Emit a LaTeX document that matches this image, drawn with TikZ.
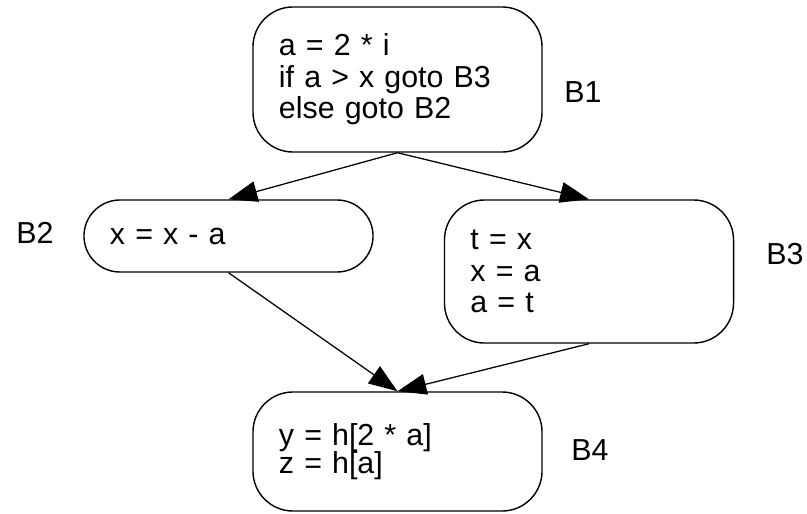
\documentclass[tikz,border=0pt]{standalone}
\usepackage{fontspec}
\setmainfont{Liberation Sans}
\usepackage{tikz}
\usetikzlibrary{arrows.meta, positioning}
\tikzset{
    block/.style={rectangle, rounded corners=1cm, draw, line width=1pt, minimum width=7.225cm, text width=5.925cm, inner xsep=0.65cm, align=left, font=\fontsize{21.6pt}{22.5pt}\selectfont},
    blocklabel/.style={inner sep=0pt, font=\fontsize{21.6pt}{22.5pt}\selectfont},
    flow/.style={-{Triangle[length=0.72cm, width=0.52cm]}, line width=0.9pt}
}

\begin{document}
\begin{tikzpicture}[x=0.025cm, y=-0.025cm]
    \useasboundingbox (0,0) rectangle (807,513);

    % Basic blocks
    \node[block, minimum height=3.625cm] (b1) at (397.5,79.5) {a = 2 * i\\if a > x goto B3\\else goto B2};
    \node[block, minimum height=1.8cm, rounded corners=0.9cm] (b2) at (228.5,236) {x = x - a};
    \node[block, minimum height=3.575cm] (b3) at (589,271.5) {t = x\\x = a\\a = t};
    \node[block, minimum height=2.975cm] (b4) at (397.5,451.5) {y = h[2 * a]\\[-3pt]z = h[a]};

    % Block names
    \node[blocklabel] (l1) at (583,92) {B1};
    \node[blocklabel] (l2) at (35,233) {B2};
    \node[blocklabel] (l3) at (785,254) {B3};
    \node[blocklabel] (l4) at (590,450) {B4};

    % Control flow
    \draw[flow] (b1.south) -- (b2.north);
    \draw[flow] (b1.south) -- (b3.north);
    \draw[flow] (b2.south) -- (b4.north);
    \draw[flow] (b3.south) -- (b4.north);
\end{tikzpicture}
\end{document}
